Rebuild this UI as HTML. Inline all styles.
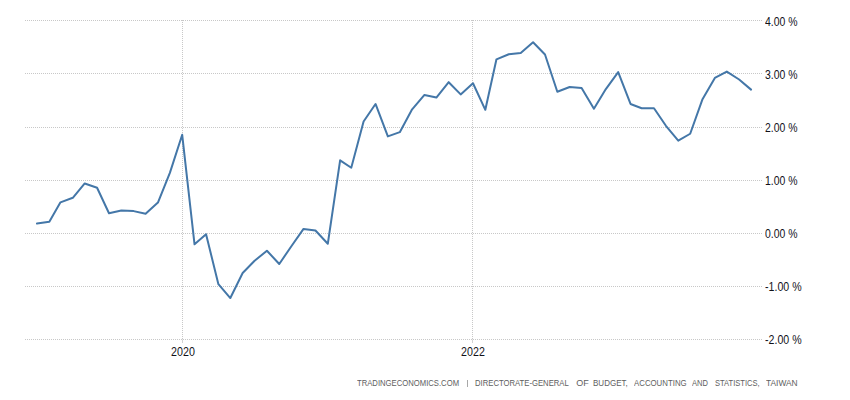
<!DOCTYPE html>
<html><head><meta charset="utf-8"><style>
html,body{margin:0;padding:0;background:#fff;}
body{width:850px;height:400px;position:relative;overflow:hidden;font-family:"Liberation Sans",sans-serif;}
svg{position:absolute;left:0;top:0;}
.yl{position:absolute;left:764.5px;font-size:12px;line-height:14px;color:#111118;white-space:nowrap;transform:scaleX(0.87);transform-origin:0 0;}
.neg{transform:scaleX(0.884);}
.xl{position:absolute;top:345px;font-size:12px;line-height:14px;color:#111118;width:60px;text-align:center;transform:scaleX(0.89);}
.fw{position:absolute;top:378px;font-size:9px;color:#5e5e5e;white-space:nowrap;transform-origin:0 0;}
</style></head><body>
<svg width="850" height="400" viewBox="0 0 850 400">
<g stroke="#c8c8c8" stroke-width="1" fill="none"><g stroke-dasharray="1 1"><line x1="25" y1="20.5" x2="762" y2="20.5"/><line x1="25" y1="73.5" x2="762" y2="73.5"/><line x1="25" y1="127.5" x2="762" y2="127.5"/><line x1="25" y1="180.5" x2="762" y2="180.5"/><line x1="25" y1="233.5" x2="762" y2="233.5"/><line x1="25" y1="286.5" x2="762" y2="286.5"/><line x1="25" y1="339.5" x2="762" y2="339.5"/><line x1="182.5" y1="20" x2="182.5" y2="339"/><line x1="472.5" y1="20" x2="472.5" y2="339"/></g></g><g stroke="#d2d2d2" stroke-width="1"><line x1="182.5" y1="339.5" x2="182.5" y2="343"/><line x1="472.5" y1="339.5" x2="472.5" y2="343"/></g>
<path d="M37.00 223.60 L49.33 221.74 L60.47 202.33 L72.80 197.81 L84.74 183.46 L97.07 187.71 L109.00 213.23 L121.33 210.57 L133.67 211.11 L145.60 213.76 L157.93 202.60 L169.87 172.83 L182.20 134.81 L194.53 244.34 L206.06 234.23 L218.40 284.21 L230.33 298.03 L242.66 273.05 L254.60 260.82 L266.93 250.72 L279.26 264.01 L291.19 246.46 L303.53 228.92 L315.46 230.51 L327.79 243.80 L340.12 160.33 L351.26 167.77 L363.59 121.52 L375.53 103.97 L387.86 136.41 L399.79 132.15 L412.13 109.29 L424.46 94.94 L436.39 97.59 L448.72 82.18 L460.66 94.40 L472.99 83.24 L485.32 109.82 L496.46 59.31 L508.79 54.26 L520.72 52.93 L533.06 42.30 L544.99 54.53 L557.32 91.75 L569.65 86.96 L581.59 88.02 L593.92 108.76 L605.85 89.09 L618.19 72.07 L630.52 103.97 L641.66 108.23 L653.99 108.23 L665.92 125.77 L678.25 140.66 L690.19 133.75 L702.52 99.19 L714.85 77.92 L726.79 71.54 L739.12 79.52 L751.05 89.62" fill="none" stroke="#4477a8" stroke-width="2" stroke-linejoin="round" stroke-linecap="round"/>
</svg>
<div class="yl" style="top:15px">4.00 %</div><div class="yl" style="top:68px">3.00 %</div><div class="yl" style="top:121px">2.00 %</div><div class="yl" style="top:174px">1.00 %</div><div class="yl" style="top:227px">0.00 %</div><div class="yl neg" style="top:280px">-1.00 %</div><div class="yl neg" style="top:333px">-2.00 %</div>
<div class="xl" style="left:152.5px">2020</div>
<div class="xl" style="left:442.5px">2022</div>
<span class="fw" style="left:357.0px;transform:scaleX(0.854)">TRADINGECONOMICS.COM</span><span class="fw" style="left:475.3px;transform:scaleX(0.855)">DIRECTORATE-GENERAL</span><span class="fw" style="left:576.3px;transform:scaleX(1.0)">OF</span><span class="fw" style="left:592.5px;transform:scaleX(0.89)">BUDGET,</span><span class="fw" style="left:634.0px;transform:scaleX(0.87)">ACCOUNTING</span><span class="fw" style="left:691.8px;transform:scaleX(0.84)">AND</span><span class="fw" style="left:715.0px;transform:scaleX(0.84)">STATISTICS,</span><span class="fw" style="left:766.2px;transform:scaleX(0.93)">TAIWAN</span>
<div style="position:absolute;left:467px;top:380px;width:1px;height:7px;background:#a8a8a8"></div>
</body></html>
